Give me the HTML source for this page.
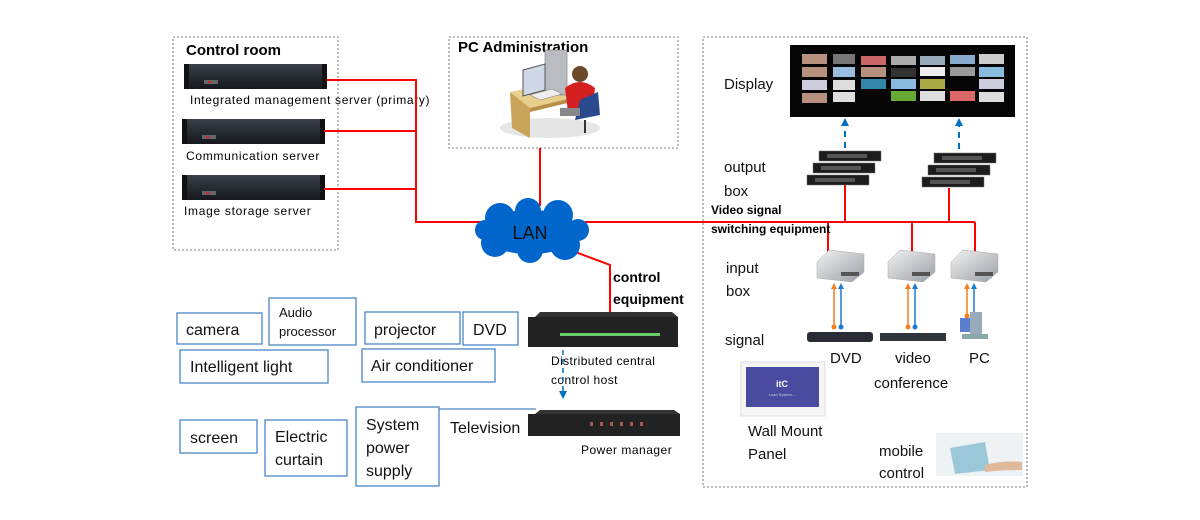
<!DOCTYPE html>
<html><head><meta charset="utf-8"><style>
html,body{margin:0;padding:0;background:#fff;}
svg{display:block;font-family:"Liberation Sans",Arial,sans-serif;}
</style></head><body>
<svg width="1200" height="520" viewBox="0 0 1200 520" xmlns="http://www.w3.org/2000/svg">
<defs>
<linearGradient id="srv" x1="0" y1="0" x2="0" y2="1"><stop offset="0" stop-color="#3a3f48"/><stop offset="1" stop-color="#15181d"/></linearGradient>
<linearGradient id="box" x1="0" y1="0" x2="1" y2="1"><stop offset="0" stop-color="#f2f2f2"/><stop offset="1" stop-color="#9a9ea4"/></linearGradient>
<g id="server"><rect x="0" y="0" width="143" height="25" fill="url(#srv)"/><rect x="0" y="0" width="5" height="25" fill="#111"/><rect x="138" y="0" width="5" height="25" fill="#111"/><rect x="20" y="16" width="14" height="4" fill="#666"/><rect x="24" y="17" width="3" height="2" fill="#d22"/></g>
<g id="outbox"><rect x="0" y="0" width="62" height="10" fill="#1c1c1c" stroke="#777" stroke-width="0.5"/><rect x="8" y="3" width="40" height="4" fill="#555"/></g>
<g id="inbox"><polygon points="0,12 12,0 47,4 47,22 35,32 0,28" fill="url(#box)" stroke="#aaa" stroke-width="0.5"/><rect x="24" y="22" width="18" height="4" fill="#555"/></g>
</defs>

<rect x="173" y="37" width="165" height="213" fill="none" stroke="#999" stroke-width="1.3" stroke-dasharray="2,2"/>
<rect x="449" y="37" width="229" height="111" fill="none" stroke="#999" stroke-width="1.3" stroke-dasharray="2,2"/>
<rect x="703" y="37" width="324" height="450" fill="none" stroke="#999" stroke-width="1.3" stroke-dasharray="2,2"/>

<text x="186" y="55" font-size="15" font-weight="bold">Control room</text>
<text x="458" y="52" font-size="15" font-weight="bold">PC Administration</text>

<use href="#server" x="184" y="64"/>
<use href="#server" x="182" y="119"/>
<use href="#server" x="182" y="175"/>
<text x="190" y="104" font-size="12" letter-spacing="0.65">Integrated management server (primary)</text>
<text x="186" y="160" font-size="12" letter-spacing="0.7">Communication server</text>
<text x="184" y="215" font-size="12" letter-spacing="0.7">Image storage server</text>

<g stroke="#ff0000" stroke-width="2" fill="none">
<polyline points="327,80 416,80 416,222 490,222"/>
<line x1="324" y1="131" x2="416" y2="131"/>
<line x1="324" y1="189" x2="416" y2="189"/>
<line x1="540" y1="148" x2="540" y2="206"/>
<line x1="585" y1="222" x2="975" y2="222"/>
<polyline points="570,250 610,265 610,316"/>
<line x1="845" y1="185" x2="845" y2="222"/>
<line x1="949" y1="188" x2="949" y2="222"/>
<line x1="828" y1="222" x2="828" y2="258"/>
<line x1="912" y1="222" x2="912" y2="252"/>
<line x1="975" y1="222" x2="975" y2="253"/>
</g>

<ellipse cx="550" cy="128" rx="50" ry="10" fill="#e6e6e6"/>
<polygon points="510,92 560,82 580,96 530,108" fill="#e8cf8d"/>
<polygon points="510,92 530,108 530,138 512,128" fill="#c9a45a"/>
<polygon points="530,108 580,96 580,100 530,112" fill="#b88f44"/>
<rect x="545" y="50" width="22" height="45" fill="#b9bcc0" stroke="#777" stroke-width="0.6"/>
<polygon points="523,70 545,64 545,90 523,96" fill="#cfd8e6" stroke="#555" stroke-width="1"/>
<polygon points="530,95 552,89 562,94 540,100" fill="#eee" stroke="#777" stroke-width="0.5"/>
<circle cx="580" cy="74" r="8" fill="#6b4a2b"/>
<path d="M565,88 Q580,76 595,88 L592,112 L568,112 Z" fill="#d42020"/>
<path d="M580,100 L598,92 L600,115 L575,120 Z" fill="#2a4a90"/>
<rect x="560" y="108" width="20" height="8" fill="#888"/>
<line x1="585" y1="120" x2="585" y2="133" stroke="#333" stroke-width="2"/>

<g fill="#0066cc">
<ellipse cx="530" cy="232" rx="50" ry="22"/>
<circle cx="500" cy="218" r="15"/><circle cx="528" cy="211" r="13"/><circle cx="558" cy="215" r="15"/>
<circle cx="495" cy="243" r="14"/><circle cx="530" cy="250" r="13"/><circle cx="565" cy="245" r="15"/>
<circle cx="485" cy="230" r="10"/><circle cx="578" cy="230" r="11"/>
</g>
<text x="530" y="239" font-size="18" text-anchor="middle" fill="#111">LAN</text>

<text x="613" y="282" font-size="14" font-weight="bold">control</text>
<text x="613" y="304" font-size="14" font-weight="bold">equipment</text>

<rect x="528" y="317" width="150" height="30" fill="#222"/>
<polygon points="535,317 540,312 672,312 678,317" fill="#333"/>
<rect x="560" y="333" width="100" height="3" fill="#6c6"/>
<rect x="528" y="414" width="152" height="22" fill="#222"/>
<polygon points="535,414 540,410 674,410 680,414" fill="#333"/>
<g fill="#a55"><rect x="590" y="422" width="3" height="4"/><rect x="600" y="422" width="3" height="4"/><rect x="610" y="422" width="3" height="4"/><rect x="620" y="422" width="3" height="4"/><rect x="630" y="422" width="3" height="4"/><rect x="640" y="422" width="3" height="4"/></g>
<text x="551" y="365" font-size="12" letter-spacing="0.4">Distributed central</text>
<text x="551" y="384" font-size="12" letter-spacing="0.4">control host</text>
<text x="581" y="454" font-size="12" letter-spacing="0.5">Power manager</text>
<line x1="563" y1="350" x2="563" y2="392" stroke="#0070c0" stroke-width="1.5" stroke-dasharray="5,4"/>
<polygon points="559,391 567,391 563,399" fill="#0070c0"/>

<g fill="none" stroke="#4a86c8" stroke-width="1.3">
<rect x="177" y="313" width="85" height="31"/>
<rect x="269" y="298" width="87" height="47"/>
<rect x="365" y="312" width="95" height="32"/>
<rect x="463" y="312" width="55" height="33"/>
<rect x="180" y="350" width="148" height="33"/>
<rect x="362" y="349" width="133" height="33"/>
<rect x="180" y="420" width="77" height="33"/>
<rect x="265" y="420" width="82" height="56"/>
<rect x="356" y="407" width="83" height="79"/>
<polyline points="439,409 536,409 M439,442 536,442"/>
</g>
<g font-size="16" fill="#111">
<text x="186" y="335">camera</text>
<text x="279" y="317" font-size="13">Audio</text>
<text x="279" y="336" font-size="13">processor</text>
<text x="374" y="335">projector</text>
<text x="473" y="335">DVD</text>
<text x="190" y="372">Intelligent light</text>
<text x="371" y="371">Air conditioner</text>
<text x="190" y="443">screen</text>
<text x="275" y="442">Electric</text>
<text x="275" y="465">curtain</text>
<text x="366" y="430">System</text>
<text x="366" y="453">power</text>
<text x="366" y="476">supply</text>
<text x="450" y="433">Television</text>
</g>

<rect x="790" y="45" width="225" height="72" fill="#050505"/>
<g fill="#b89080">
<rect x="802" y="54" width="25" height="10"/><rect x="833" y="54" width="22" height="10" fill="#777"/><rect x="861" y="56" width="25" height="9" fill="#c66"/><rect x="891" y="56" width="25" height="9" fill="#aaa"/><rect x="920" y="56" width="25" height="9" fill="#9ab"/><rect x="950" y="55" width="25" height="9" fill="#8ac"/><rect x="979" y="54" width="25" height="10" fill="#ccc"/>
<rect x="802" y="67" width="25" height="10"/><rect x="833" y="67" width="22" height="10" fill="#9bd"/><rect x="861" y="67" width="25" height="10"/><rect x="891" y="68" width="25" height="9" fill="#333"/><rect x="920" y="67" width="25" height="9" fill="#eee"/><rect x="950" y="67" width="25" height="9" fill="#999"/><rect x="979" y="67" width="25" height="10" fill="#8bd"/>
<rect x="802" y="80" width="25" height="10" fill="#ccd"/><rect x="833" y="80" width="22" height="10" fill="#ddd"/><rect x="861" y="79" width="25" height="10" fill="#38a"/><rect x="891" y="79" width="25" height="10" fill="#8bd"/><rect x="920" y="79" width="25" height="10" fill="#aa4"/><rect x="979" y="79" width="25" height="10" fill="#ccd"/>
<rect x="802" y="93" width="25" height="10"/><rect x="833" y="92" width="22" height="10" fill="#ddd"/><rect x="891" y="91" width="25" height="10" fill="#6a3"/><rect x="920" y="91" width="25" height="10" fill="#ddd"/><rect x="950" y="91" width="25" height="10" fill="#d66"/><rect x="979" y="92" width="25" height="10" fill="#ddd"/>
</g>
<g stroke="#0070c0" stroke-width="2" stroke-dasharray="6,5"><line x1="845" y1="148" x2="845" y2="124"/><line x1="959" y1="160" x2="959" y2="124"/></g>
<polygon points="841,126 849,126 845,118" fill="#0070c0"/>
<polygon points="955,126 963,126 959,118" fill="#0070c0"/>
<use href="#outbox" x="819" y="151"/><use href="#outbox" x="813" y="163"/><use href="#outbox" x="807" y="175"/>
<use href="#outbox" x="934" y="153"/><use href="#outbox" x="928" y="165"/><use href="#outbox" x="922" y="177"/>

<use href="#inbox" x="817" y="250"/><use href="#inbox" x="888" y="250"/><use href="#inbox" x="951" y="250"/>
<g stroke-width="1.5">
<line x1="834" y1="326" x2="834" y2="288" stroke="#f08020"/><line x1="841" y1="326" x2="841" y2="288" stroke="#1a7ad0"/>
<line x1="908" y1="326" x2="908" y2="288" stroke="#f08020"/><line x1="915" y1="326" x2="915" y2="288" stroke="#1a7ad0"/>
<line x1="967" y1="316" x2="967" y2="288" stroke="#f08020"/><line x1="974" y1="316" x2="974" y2="288" stroke="#1a7ad0"/>
</g>
<g><polygon points="831,289 837,289 834,283" fill="#f08020"/><polygon points="838,289 844,289 841,283" fill="#1a7ad0"/>
<polygon points="905,289 911,289 908,283" fill="#f08020"/><polygon points="912,289 918,289 915,283" fill="#1a7ad0"/>
<polygon points="964,289 970,289 967,283" fill="#f08020"/><polygon points="971,289 977,289 974,283" fill="#1a7ad0"/>
<circle cx="834" cy="327" r="2.5" fill="#f08020"/><circle cx="841" cy="327" r="2.5" fill="#1a7ad0"/>
<circle cx="908" cy="327" r="2.5" fill="#f08020"/><circle cx="915" cy="327" r="2.5" fill="#1a7ad0"/>
<circle cx="967" cy="316" r="2.5" fill="#f08020"/><circle cx="974" cy="316" r="2.5" fill="#1a7ad0"/></g>
<rect x="807" y="332" width="66" height="10" rx="3" fill="#2a2d35"/>
<rect x="880" y="333" width="66" height="8" fill="#30343c"/>
<rect x="960" y="318" width="16" height="14" fill="#5a7fd0"/><rect x="970" y="312" width="12" height="22" fill="#9ab"/><rect x="962" y="334" width="26" height="5" fill="#8aa"/>

<g font-size="15" fill="#111">
<text x="724" y="89">Display</text>
<text x="724" y="172">output</text>
<text x="724" y="196">box</text>
<text x="726" y="273">input</text>
<text x="726" y="296">box</text>
<text x="725" y="345">signal</text>
<text x="830" y="363">DVD</text>
<text x="895" y="363">video</text>
<text x="874" y="388">conference</text>
<text x="969" y="363">PC</text>
<text x="748" y="436">Wall Mount</text>
<text x="748" y="459">Panel</text>
<text x="879" y="456">mobile</text>
<text x="879" y="478">control</text>
</g>
<text x="711" y="214" font-size="12" font-weight="bold">Video signal</text>
<text x="711" y="233" font-size="12" font-weight="bold">switching equipment</text>

<rect x="741" y="362" width="84" height="54" fill="#f5f5f5" stroke="#ddd"/>
<rect x="746" y="367" width="73" height="40" fill="#4a4aa0"/>
<text x="782" y="387" font-size="9" fill="#fff" text-anchor="middle" font-weight="bold">itC</text>
<text x="782" y="396" font-size="4" fill="#ccd" text-anchor="middle">Load System...</text>

<rect x="936" y="433" width="87" height="43" fill="#eef2f4"/>
<polygon points="950,448 985,442 990,470 955,474" fill="#9bc8d8"/>
<path d="M985,465 Q1005,460 1022,462 L1022,470 Q1000,470 985,472 Z" fill="#e0b89a"/>
</svg>
</body></html>
